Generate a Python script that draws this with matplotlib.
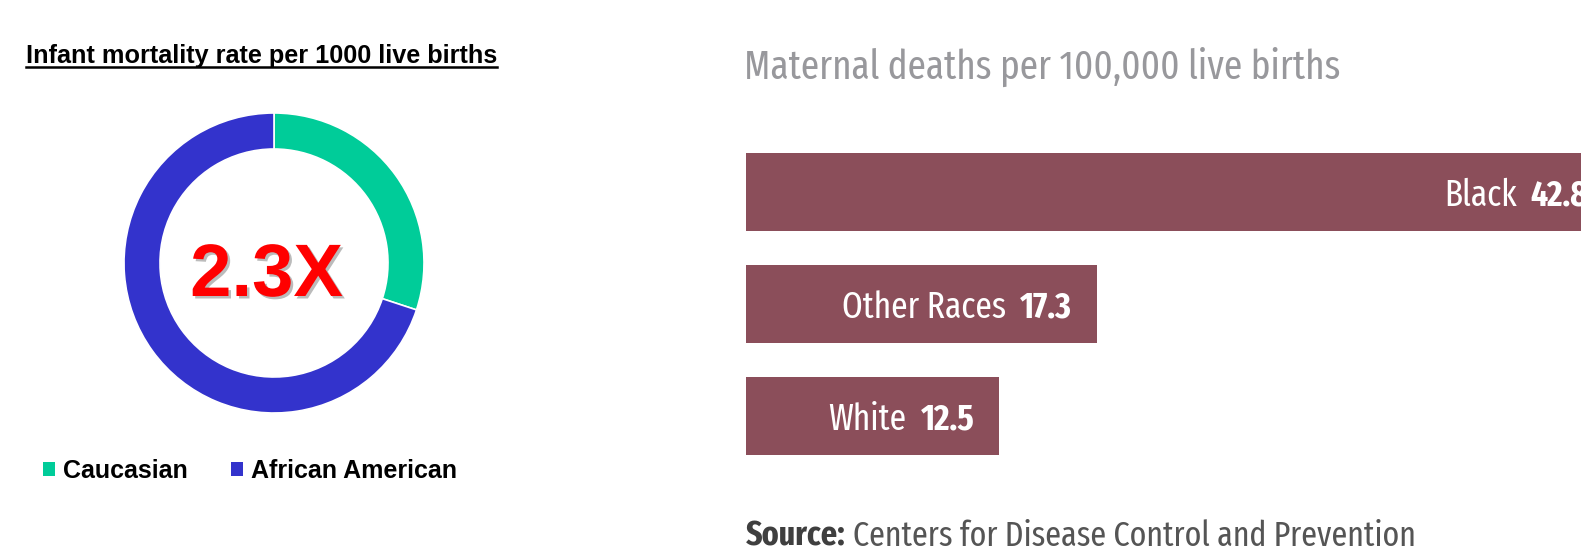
import matplotlib
matplotlib.use("Agg")
import matplotlib.pyplot as plt
import matplotlib.patheffects as pe
from matplotlib.patches import Patch
from matplotlib.lines import Line2D

# ---- data ----
infant_groups = ["Caucasian", "African American"]
infant_rates = [4.9, 11.4]
infant_colors = ["#00CC99", "#3333CC"]
ratio_label = "2.3X"
infant_title = "Infant mortality rate per 1000 live births"

maternal_groups = ["Black", "Other Races", "White"]
maternal_rates = [42.8, 17.3, 12.5]
maternal_subtitle = "Maternal deaths per 100,000 live births"
source_bold = "Source:"
source_text = "Centers for Disease Control and Prevention"

W, H = 1581, 553
fig = plt.figure(figsize=(W / 100, H / 100), dpi=100)
fig.patch.set_facecolor("white")

LEFT_FONT = ["Liberation Sans", "DejaVu Sans"]
RIGHT_FONT = ["Fira Sans Extra Condensed", "DejaVu Sans"]

def fx(px):
    return px / W

def fy(py):
    return 1 - py / H

# ---- left: donut ----
cx, cy, R = 274, 263, 150
axd = fig.add_axes([fx(cx - R), fy(cy + R), 2 * R / W, 2 * R / H])
wedges, _ = axd.pie(infant_rates, colors=infant_colors, startangle=90,
                    counterclock=False, radius=1.0,
                    wedgeprops=dict(width=0.24, edgecolor="white", linewidth=1.2))
axd.set_xlim(-1, 1)
axd.set_ylim(-1, 1)
axd.set_aspect("equal")
axd.axis("off")

txt = axd.text(-0.05, 1 - (296 - (cy - R)) / R, ratio_label, ha="center", va="baseline",
               fontsize=53.5, fontweight="bold", color="#FF0000", family=LEFT_FONT)
txt.set_path_effects([pe.SimplePatchShadow(offset=(1.8, -1.8), alpha=0.4, shadow_rgbFace="#555555"),
                      pe.Normal()])

title = fig.text(fx(26), fy(63), infant_title, ha="left", va="baseline",
                 fontsize=18.2, fontweight="bold", color="black", family=LEFT_FONT)

handles = [Patch(facecolor=c, edgecolor="none") for c in infant_colors]
leg = fig.legend(handles, infant_groups, loc="center left",
                 bbox_to_anchor=(fx(43), fy(471)), bbox_transform=fig.transFigure,
                 ncol=2, frameon=False, borderpad=0, borderaxespad=0,
                 handlelength=0.48, handleheight=0.48, handletextpad=0.32,
                 columnspacing=1.73,
                 prop=dict(family=LEFT_FONT, weight="bold", size=18.0))

# ---- right: bar chart ----
bar_left = 746
px_per_unit = 20.27
bar_spacing = 112
top_center = 192
axb_top = top_center - bar_spacing / 2
axb_bot = axb_top + bar_spacing * len(maternal_groups)
axb = fig.add_axes([fx(bar_left), fy(axb_bot), (W - bar_left) / W, (axb_bot - axb_top) / H])
ypos = list(range(len(maternal_groups)))
axb.barh(ypos, maternal_rates, height=0.70, color="#8B4E5A", edgecolor="none")
axb.set_xlim(0, (W - bar_left) / px_per_unit)
axb.set_ylim(len(maternal_groups) - 0.5, -0.5)
axb.axis("off")

fig.text(fx(bar_left - 2), fy(79), maternal_subtitle, ha="left", va="baseline",
         fontsize=29, color="#98989C", family=RIGHT_FONT)

src_b = fig.text(fx(bar_left), fy(546), source_bold, ha="left", va="baseline",
                 fontsize=25, fontweight="bold", color="#3F3F3F", family=RIGHT_FONT)

val_texts = []
for i, (g, v) in enumerate(zip(maternal_groups, maternal_rates)):
    t = axb.annotate(f"{v:.1f}", xy=(v, i), xytext=(-18, -10), textcoords="offset points",
                     ha="right", va="baseline", fontsize=26, fontweight="bold",
                     color="white", family=RIGHT_FONT, annotation_clip=False)
    val_texts.append(t)

fig.canvas.draw()
renderer = fig.canvas.get_renderer()

for i, (g, t) in enumerate(zip(maternal_groups, val_texts)):
    bb = t.get_window_extent(renderer)
    fig.text((bb.x0 - 14) / W, bb.y0 / H, g, ha="right", va="bottom",
             fontsize=26, color="white", family=RIGHT_FONT)

bb = src_b.get_window_extent(renderer)
fig.text((bb.x1 + 7) / W, bb.y0 / H, source_text, ha="left", va="bottom",
         fontsize=25, color="#555555", family=RIGHT_FONT)

tb = title.get_window_extent(renderer)
fig.add_artist(Line2D([tb.x0 / W, tb.x1 / W], [fy(67), fy(67)], color="black",
                      linewidth=1.8, transform=fig.transFigure))

fig.savefig("out.png", dpi=100, facecolor="white")
